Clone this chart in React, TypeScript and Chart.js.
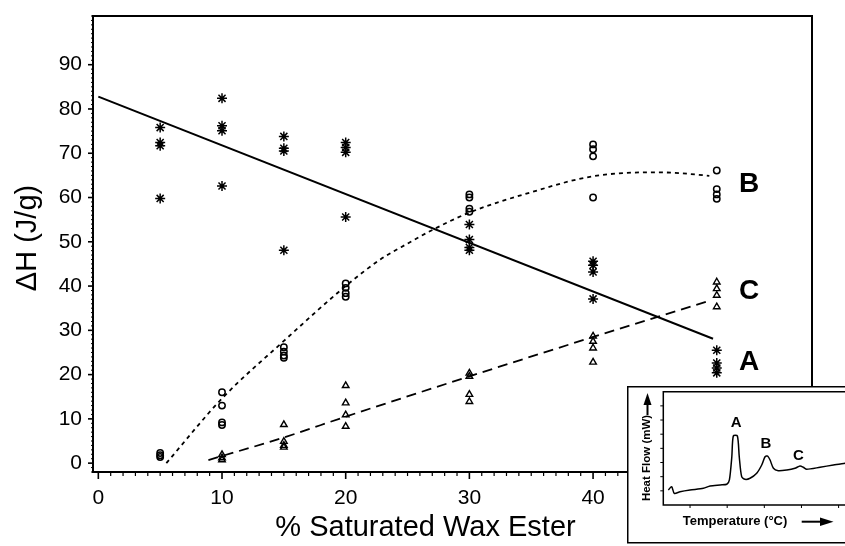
import React, { useEffect, useRef } from 'react';
import { Chart, registerables } from 'chart.js';

Chart.register(...registerables);

// ---------- main chart data ----------
const concentrations = [5, 10, 15, 20, 30, 40, 50];

// peak A (asterisks), per concentration
const peakAValues = [
  [75.8, 72.4, 71.7, 59.8],
  [82.4, 76.2, 75.1, 62.6],
  [73.8, 71.1, 70.5, 48.1],
  [72.4, 71.3, 70.2, 55.6],
  [53.9, 50.5, 48.7, 48.1],
  [45.6, 44.7, 43.2, 37.1],
  [25.5, 22.6, 21.5, 20.4],
];

// peak B (open circles)
const peakBValues = [
  [2.3, 1.8, 1.4],
  [16.0, 13.0, 9.2, 8.6],
  [26.2, 25.2, 24.3, 23.8],
  [40.6, 39.6, 38.4, 37.6],
  [60.7, 60.0, 57.5, 56.8],
  [72.0, 70.9, 69.3, 60.0],
  [66.1, 61.9, 60.7, 59.7],
];

// peak C (open triangles); no C at 5 %
const peakCValues = [
  [],
  [1.9, 1.2, 0.75],
  [8.7, 4.9, 4.0, 3.6],
  [17.5, 13.6, 10.9, 8.3],
  [20.3, 19.6, 15.5, 13.9],
  [28.7, 27.5, 26.0, 22.8],
  [40.9, 39.4, 37.9, 35.3],
];

// fitted curves
const fitAX = [0, 49.7];
const fitAY = [82.8, 28.1];
const fitBX = [5.5, 10, 15, 20, 22.8, 25, 27.1, 30, 35, 40, 45, 47, 49.4];
const fitBY = [0, 14.6, 27.6, 40, 46, 49.6, 52.8, 56.6, 61.2, 64.8, 65.7, 65.5, 64.9];
const fitCX = [8.9, 15, 20, 30, 40, 49.3];
const fitCY = [0.7, 5.8, 10.5, 19.6, 28.5, 36.6];

const xTickValues = [0, 10, 20, 30, 40, 50];
const yTickValues = [0, 10, 20, 30, 40, 50, 60, 70, 80, 90];

const curveLabels = ['B', 'C', 'A'];
const curveLabelX = [51.8, 51.8, 51.8];
const curveLabelY = [61.25, 37.0, 21.1];

// ---------- inset (DSC trace) data ----------
const insetTemp = [
  -11.7, -9.9, -8.5, -5.4, 0, 7.2, 10.8, 16.2, 19.8, 21.2, 22.5, 23.3, 25.5, 26.5,
  27.8, 29.6, 32.3, 35.9, 38.6, 40.4, 41.8, 43.1, 44.9, 47.5, 52.1, 56.5, 59.2,
  61.0, 62.8, 70.0, 77.2, 83.5,
];
const insetHeat = [
  13.2, 16.2, 10.3, 11.7, 13.2, 14.7, 16.8, 17.7, 18.3, 22.1, 42.6, 60.9, 60.9, 42.6,
  25.0, 22.7, 23.6, 28.0, 35.3, 42.6, 43.2, 39.7, 32.4, 30.3, 30.9, 32.4, 34.4,
  33.3, 31.5, 33.3, 35.3, 36.8,
];
const insetXTicks = [0, 20, 40, 60, 80];
const insetYTicks = [12.5, 25, 37.5, 50, 62.5, 75, 87.5];
const insetLabels = ['A', 'B', 'C'];
const insetLabelX = [24.8, 40.8, 58.4];
const insetLabelY = [69.2, 50.0, 39.7];

const FONT = '"Liberation Sans", Arial, Helvetica, sans-serif';

function groupPoints(xs: number[], groups: number[][]) {
  const pts: { x: number; y: number }[] = [];
  groups.forEach((g, i) => g.forEach((v) => pts.push({ x: xs[i], y: v })));
  return pts;
}
function zipPoints(xs: number[], ys: number[]) {
  return xs.map((x, i) => ({ x, y: ys[i] }));
}

const mainDecor = {
  id: 'mainDecor',
  afterDraw(chart: any) {
    const { ctx, chartArea: a } = chart;
    const x = chart.scales.x;
    const y = chart.scales.y;
    ctx.save();
    ctx.strokeStyle = '#000';
    ctx.fillStyle = '#000';
    ctx.lineWidth = 2;
    ctx.strokeRect(a.left, a.top, a.right - a.left, a.bottom - a.top);
    // x ticks
    for (let v = Math.ceil(x.min); v <= x.max; v++) {
      const px = x.getPixelForValue(v);
      const major = xTickValues.includes(v);
      ctx.lineWidth = major ? 1.6 : 1.2;
      ctx.beginPath();
      ctx.moveTo(px, a.bottom);
      ctx.lineTo(px, a.bottom + (major ? 7 : 4));
      ctx.stroke();
    }
    // y ticks
    for (let v = Math.ceil(y.min); v <= y.max; v++) {
      const py = y.getPixelForValue(v);
      const major = yTickValues.includes(v);
      ctx.lineWidth = major ? 1.6 : 1;
      ctx.beginPath();
      ctx.moveTo(a.left, py);
      ctx.lineTo(a.left - (major ? 5 : 2), py);
      ctx.stroke();
    }
    // axis titles
    ctx.font = `29px ${FONT}`;
    ctx.textAlign = 'center';
    ctx.textBaseline = 'alphabetic';
    ctx.fillText('% Saturated Wax Ester', 425.5, 536);
    ctx.save();
    ctx.translate(28, 238);
    ctx.rotate(-Math.PI / 2);
    ctx.textBaseline = 'middle';
    ctx.fillText('ΔH (J/g)', 0, 0);
    ctx.restore();
    // curve labels
    ctx.font = `bold 28px ${FONT}`;
    ctx.textAlign = 'left';
    ctx.textBaseline = 'alphabetic';
    curveLabels.forEach((t, i) => {
      ctx.fillText(t, x.getPixelForValue(curveLabelX[i]), y.getPixelForValue(curveLabelY[i]));
    });
    ctx.restore();
  },
};

const insetDecor = {
  id: 'insetDecor',
  beforeDraw(chart: any) {
    const { ctx, width, height } = chart;
    ctx.save();
    ctx.fillStyle = '#fff';
    ctx.fillRect(0, 0, width, height);
    ctx.restore();
  },
  afterDraw(chart: any) {
    const { ctx, chartArea: a } = chart;
    const x = chart.scales.x;
    const y = chart.scales.y;
    ctx.save();
    ctx.strokeStyle = '#000';
    ctx.fillStyle = '#000';
    // outer box
    ctx.lineWidth = 1.5;
    ctx.beginPath();
    ctx.moveTo(chart.width + 5, 0.75);
    ctx.lineTo(0.75, 0.75);
    ctx.lineTo(0.75, 156.7);
    ctx.lineTo(chart.width + 5, 156.7);
    ctx.stroke();
    // inner box
    ctx.beginPath();
    ctx.moveTo(chart.width + 5, a.top);
    ctx.lineTo(a.left, a.top);
    ctx.lineTo(a.left, a.bottom);
    ctx.lineTo(chart.width + 5, a.bottom);
    ctx.stroke();
    ctx.lineWidth = 1;
    insetXTicks.forEach((v) => {
      const px = x.getPixelForValue(v);
      ctx.beginPath();
      ctx.moveTo(px, a.bottom);
      ctx.lineTo(px, a.bottom + 3);
      ctx.stroke();
    });
    insetYTicks.forEach((v) => {
      const py = y.getPixelForValue(v);
      ctx.beginPath();
      ctx.moveTo(a.left, py);
      ctx.lineTo(a.left - 3, py);
      ctx.stroke();
    });
    // peak labels
    ctx.font = `bold 15px ${FONT}`;
    ctx.textAlign = 'center';
    ctx.textBaseline = 'alphabetic';
    insetLabels.forEach((t, i) => {
      ctx.fillText(t, x.getPixelForValue(insetLabelX[i]), y.getPixelForValue(insetLabelY[i]));
    });
    // y title + arrow
    ctx.save();
    ctx.translate(20, 72);
    ctx.rotate(-Math.PI / 2);
    ctx.font = `bold 11.5px ${FONT}`;
    ctx.textBaseline = 'middle';
    ctx.fillText('Heat Flow (mW)', 0, 0);
    ctx.restore();
    ctx.lineWidth = 2;
    ctx.beginPath();
    ctx.moveTo(20.5, 29);
    ctx.lineTo(20.5, 17);
    ctx.stroke();
    ctx.beginPath();
    ctx.moveTo(20.5, 7);
    ctx.lineTo(16.5, 19);
    ctx.lineTo(24.5, 19);
    ctx.closePath();
    ctx.fill();
    // x title + arrow
    ctx.font = `bold 13px ${FONT}`;
    ctx.textAlign = 'center';
    ctx.textBaseline = 'middle';
    ctx.fillText('Temperature (°C)', 108, 135.7);
    ctx.beginPath();
    ctx.moveTo(174.7, 135.7);
    ctx.lineTo(195, 135.7);
    ctx.stroke();
    ctx.beginPath();
    ctx.moveTo(206.5, 135.7);
    ctx.lineTo(193, 131.5);
    ctx.lineTo(193, 139.9);
    ctx.closePath();
    ctx.fill();
    ctx.restore();
  },
};

export default function App() {
  const mainRef = useRef<HTMLCanvasElement | null>(null);
  const insetRef = useRef<HTMLCanvasElement | null>(null);

  useEffect(() => {
    if (!mainRef.current || !insetRef.current) return;
    const tickFont = { family: FONT, size: 21 };

    const main = new Chart(mainRef.current, {
      type: 'scatter',
      data: {
        datasets: [
          {
            type: 'line',
            label: 'Fit A',
            data: zipPoints(fitAX, fitAY),
            borderColor: '#000',
            borderWidth: 2,
            pointRadius: 0,
            fill: false,
            tension: 0,
          } as any,
          {
            type: 'line',
            label: 'Fit B',
            data: zipPoints(fitBX, fitBY),
            borderColor: '#000',
            borderWidth: 1.8,
            borderDash: [4, 4],
            pointRadius: 0,
            fill: false,
            cubicInterpolationMode: 'monotone',
          } as any,
          {
            type: 'line',
            label: 'Fit C',
            data: zipPoints(fitCX, fitCY),
            borderColor: '#000',
            borderWidth: 1.8,
            borderDash: [10, 6],
            pointRadius: 0,
            fill: false,
            cubicInterpolationMode: 'monotone',
          } as any,
          {
            label: 'A',
            data: groupPoints(concentrations, peakAValues),
            pointStyle: 'star',
            pointRadius: 5,
            borderColor: '#000',
            backgroundColor: '#000',
            borderWidth: 1.5,
          },
          {
            label: 'B',
            data: groupPoints(concentrations, peakBValues),
            pointStyle: 'circle',
            pointRadius: 3.2,
            borderColor: '#000',
            backgroundColor: 'rgba(0,0,0,0)',
            borderWidth: 1.5,
          },
          {
            label: 'C',
            data: groupPoints(concentrations, peakCValues),
            pointStyle: 'triangle',
            pointRadius: 3.8,
            borderColor: '#000',
            backgroundColor: 'rgba(0,0,0,0)',
            borderWidth: 1.4,
          },
        ],
      },
      options: {
        animation: false,
        responsive: false,
        layout: { padding: { left: 0, top: 16, right: 33, bottom: 0 } },
        plugins: { legend: { display: false }, tooltip: { enabled: false } },
        scales: {
          x: {
            type: 'linear',
            min: -0.43,
            max: 57.7,
            grid: { display: false, drawTicks: false },
            border: { display: false },
            afterBuildTicks: (s: any) => {
              s.ticks = xTickValues.map((v) => ({ value: v }));
            },
            afterFit: (s: any) => {
              s.height = 74;
              s.paddingLeft = 0;
              s.paddingRight = 0;
            },
            ticks: {
              font: tickFont,
              color: '#000',
              padding: 14,
              maxRotation: 0,
              autoSkip: false,
            },
          },
          y: {
            type: 'linear',
            min: -2,
            max: 101,
            grid: { display: false, drawTicks: false },
            border: { display: false },
            afterBuildTicks: (s: any) => {
              s.ticks = yTickValues.map((v) => ({ value: v }));
            },
            afterFit: (s: any) => {
              s.width = 93;
              s.paddingTop = 0;
              s.paddingBottom = 0;
            },
            ticks: {
              font: tickFont,
              color: '#000',
              padding: 11,
              autoSkip: false,
            },
          },
        },
      },
      plugins: [mainDecor],
    });

    const inset = new Chart(insetRef.current, {
      type: 'scatter',
      data: {
        datasets: [
          {
            type: 'line',
            label: 'DSC',
            data: zipPoints(insetTemp, insetHeat),
            borderColor: '#000',
            borderWidth: 1.5,
            pointRadius: 0,
            fill: false,
            tension: 0.25,
          } as any,
        ],
      },
      options: {
        animation: false,
        responsive: false,
        layout: { padding: { left: 0, top: 5.7, right: 0, bottom: 0 } },
        plugins: { legend: { display: false }, tooltip: { enabled: false } },
        scales: {
          x: {
            type: 'linear',
            min: -14.4,
            max: 85.6,
            grid: { display: false, drawTicks: false },
            border: { display: false },
            ticks: { display: false },
            afterFit: (s: any) => {
              s.height = 41;
              s.paddingLeft = 0;
              s.paddingRight = 0;
            },
          },
          y: {
            type: 'linear',
            min: 0,
            max: 100,
            grid: { display: false, drawTicks: false },
            border: { display: false },
            ticks: { display: false },
            afterFit: (s: any) => {
              s.width = 36.3;
              s.paddingTop = 0;
              s.paddingBottom = 0;
            },
          },
        },
      },
      plugins: [insetDecor],
    });

    return () => {
      main.destroy();
      inset.destroy();
    };
  }, []);

  return (
    <div
      style={{
        position: 'absolute',
        left: 0,
        top: 0,
        width: 845,
        height: 546,
        overflow: 'hidden',
        background: '#fff',
      }}
    >
      <canvas
        ref={mainRef}
        width={845}
        height={546}
        style={{ position: 'absolute', left: 0, top: 0 }}
      />
      <canvas
        ref={insetRef}
        width={222}
        height={160}
        style={{ position: 'absolute', left: 627, top: 386 }}
      />
    </div>
  );
}
